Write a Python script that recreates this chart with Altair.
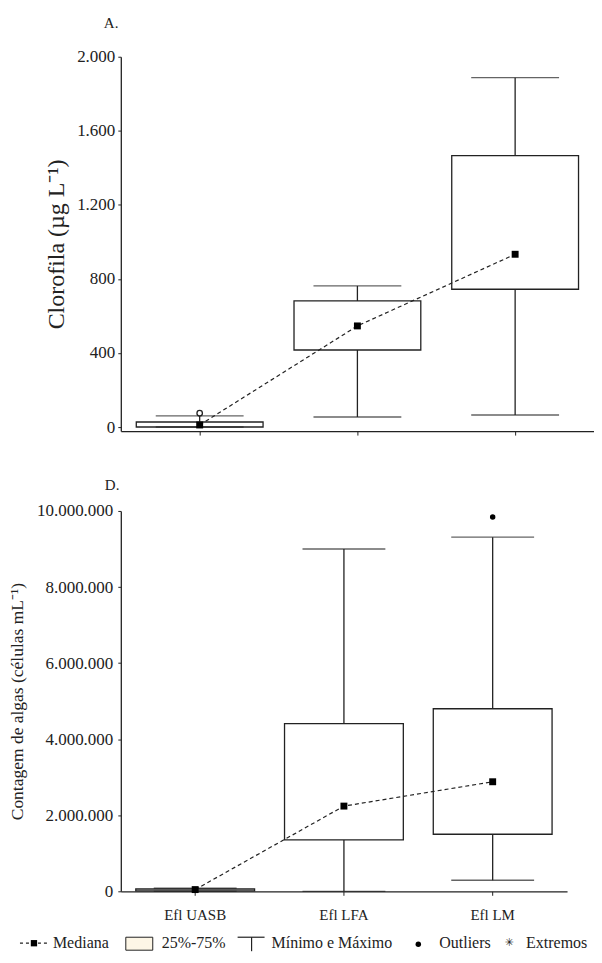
import altair as alt
import pandas as pd

# ---------------- data ----------------
categories = ["Efl UASB", "Efl LFA", "Efl LM"]

# Panel A: Clorofila (µg L-1)
clo_min = [0, 54, 65]
clo_q1 = [0, 416, 744]
clo_med = [11, 546, 933]
clo_q3 = [27, 681, 1466]
clo_max = [60, 762, 1887]
clo_out_cat = ["Efl UASB"]
clo_out_val = [75]

# Panel D: Contagem de algas (células mL-1)
alg_min = [0, 0, 290000]
alg_q1 = [10000, 1350000, 1500000]
alg_med = [45000, 2240000, 2880000]
alg_q3 = [60000, 4410000, 4800000]
alg_max = [80000, 9000000, 9310000]
alg_out_cat = ["Efl LM"]
alg_out_val = [9840000]

clo_ticks = [0, 400, 800, 1200, 1600, 2000]
alg_ticks = [0, 2000000, 4000000, 6000000, 8000000, 10000000]

FONT = "Liberation Serif"
INK = "#222222"
LABEL_EXPR = "replace(format(datum.value, ','), regexp(',', 'g'), '.')"


def panel(mn, q1, med, q3, mx, out_cat, out_val, ticks, domain, width, height,
          box_w, cap_w, ytitle, ytitle_size, ytitle_pad, show_labels, title,
          title_dx, title_offset, label_pad, open_outlier):
    df = pd.DataFrame({"cat": categories, "mn": mn, "q1": q1, "med": med,
                       "q3": q3, "mx": mx})
    odf = pd.DataFrame({"cat": out_cat, "val": out_val})

    xaxis = alt.Axis(
        title=None, labels=show_labels, labelFont=FONT, labelFontSize=15,
        labelColor=INK, labelPadding=12, ticks=True, tickSize=4,
        tickColor=INK, domainColor=INK, domainWidth=1.3, labelAngle=0,
        bandPosition=0.5, grid=False)
    x = alt.X("cat:N", sort=categories,
              scale=alt.Scale(paddingInner=0, paddingOuter=0), axis=xaxis)

    yscale = alt.Scale(domain=domain, nice=False, zero=False)
    yaxis = alt.Axis(
        title=ytitle, titleFont=FONT, titleFontSize=ytitle_size,
        titleFontWeight="normal", titleColor=INK, titlePadding=ytitle_pad,
        values=ticks, labelExpr=LABEL_EXPR, labelFont=FONT, labelFontSize=17,
        labelColor=INK, labelPadding=label_pad, tickSize=3, tickColor=INK,
        domainColor=INK, domainWidth=1.3, grid=False)

    base = alt.Chart(df)
    whisk = base.mark_rule(color=INK, strokeWidth=1.3).encode(
        x=x, y=alt.Y("mn:Q", scale=yscale, axis=yaxis), y2="mx:Q")
    box = base.mark_bar(fill="white", stroke=INK, strokeWidth=1.3,
                        size=box_w).encode(x=x, y="q1:Q", y2="q3:Q")
    cap_hi = base.mark_tick(color=INK, thickness=1.3, size=cap_w).encode(
        x=x, y="mx:Q")
    cap_lo = base.mark_tick(color=INK, thickness=1.3, size=cap_w).encode(
        x=x, y="mn:Q")
    line = base.mark_line(color=INK, strokeWidth=1.2,
                          strokeDash=[4, 3]).encode(x=x, y="med:Q")
    meds = base.mark_square(color="black", size=48, opacity=1).encode(
        x=x, y="med:Q")
    if open_outlier:
        outs = alt.Chart(odf).mark_point(shape="circle", filled=True,
                                         fill="white", stroke=INK,
                                         strokeWidth=1.3, size=30,
                                         opacity=1).encode(x=x, y="val:Q")
    else:
        outs = alt.Chart(odf).mark_point(shape="circle", filled=True,
                                         color="black", size=30,
                                         opacity=1).encode(x=x, y="val:Q")

    layers = [whisk, box, cap_hi, cap_lo, line, meds, outs]
    return layers, dict(
        width=width, height=height,
        title=alt.TitleParams(title, anchor="start", frame="group", dx=title_dx,
                              offset=title_offset, font=FONT, fontSize=15,
                              fontWeight="normal", color=INK))


top_layers, top_props = panel(
    clo_min, clo_q1, clo_med, clo_q3, clo_max, clo_out_cat, clo_out_val,
    clo_ticks, [-22, 2000], 474, 375, 127, 88, "Clorofila (µg L⁻¹)", 24, 8,
    False, "A.", -17, 17, 3, True)
top = alt.layer(*top_layers).properties(**top_props)

bot_layers, bot_props = panel(
    alg_min, alg_q1, alg_med, alg_q3, alg_max, alg_out_cat, alg_out_val,
    alg_ticks, [0, 10000000], 447, 381, 119, 83,
    "Contagem de algas (células mL⁻¹)", 17.5, 10, True, "D.", -16, 9, 5, False)

# ---------------- legend (drawn below the lower panel) ----------------
one = pd.DataFrame({"a": [0]})
LY = 433  # legend row centre, px from top of the lower plot area


def ltext(txt, px, size=16, font=FONT):
    return alt.Chart(one).mark_text(
        text=txt, align="left", baseline="middle", font=font, fontSize=size,
        color=INK).encode(x=alt.value(px), y=alt.value(LY))


leg = [
    alt.Chart(one).mark_rule(color=INK, strokeWidth=1.2, strokeDash=[3, 3]).encode(
        x=alt.value(-101), x2=alt.value(-71), y=alt.value(LY)),
    alt.Chart(one).mark_square(color="black", size=40, opacity=1).encode(
        x=alt.value(-87), y=alt.value(LY)),
    ltext("Mediana", -68),
    alt.Chart(one).mark_rect(fill="#fdf6e6", stroke=INK, strokeWidth=1).encode(
        x=alt.value(5), x2=alt.value(32), y=alt.value(LY - 6), y2=alt.value(LY + 7)),
    ltext("25%-75%", 41),
    alt.Chart(one).mark_rule(color=INK, strokeWidth=1.2).encode(
        x=alt.value(117), x2=alt.value(144), y=alt.value(LY - 6)),
    alt.Chart(one).mark_rule(color=INK, strokeWidth=1.2).encode(
        x=alt.value(131), y=alt.value(LY - 6), y2=alt.value(LY + 8)),
    ltext("Mínimo e Máximo", 151),
    alt.Chart(one).mark_point(shape="circle", filled=True, color="black",
                              size=30, opacity=1).encode(
        x=alt.value(298), y=alt.value(LY + 1)),
    ltext("Outliers", 319),
    alt.Chart(one).mark_text(text="✳", align="center", baseline="middle",
                             font="DejaVu Sans", fontSize=11, color=INK).encode(
        x=alt.value(389), y=alt.value(LY)),
    ltext("Extremos", 406),
]

bottom = alt.layer(*bot_layers, *leg).properties(**bot_props)

chart = alt.concat(top, bottom, columns=1, spacing=42).properties(
    padding={"left": 0, "top": 7, "right": 0, "bottom": 0}
).configure_view(stroke=None).configure_concat(spacing=42)

chart.save("out.html", embed_options={"renderer": "svg", "actions": False})
